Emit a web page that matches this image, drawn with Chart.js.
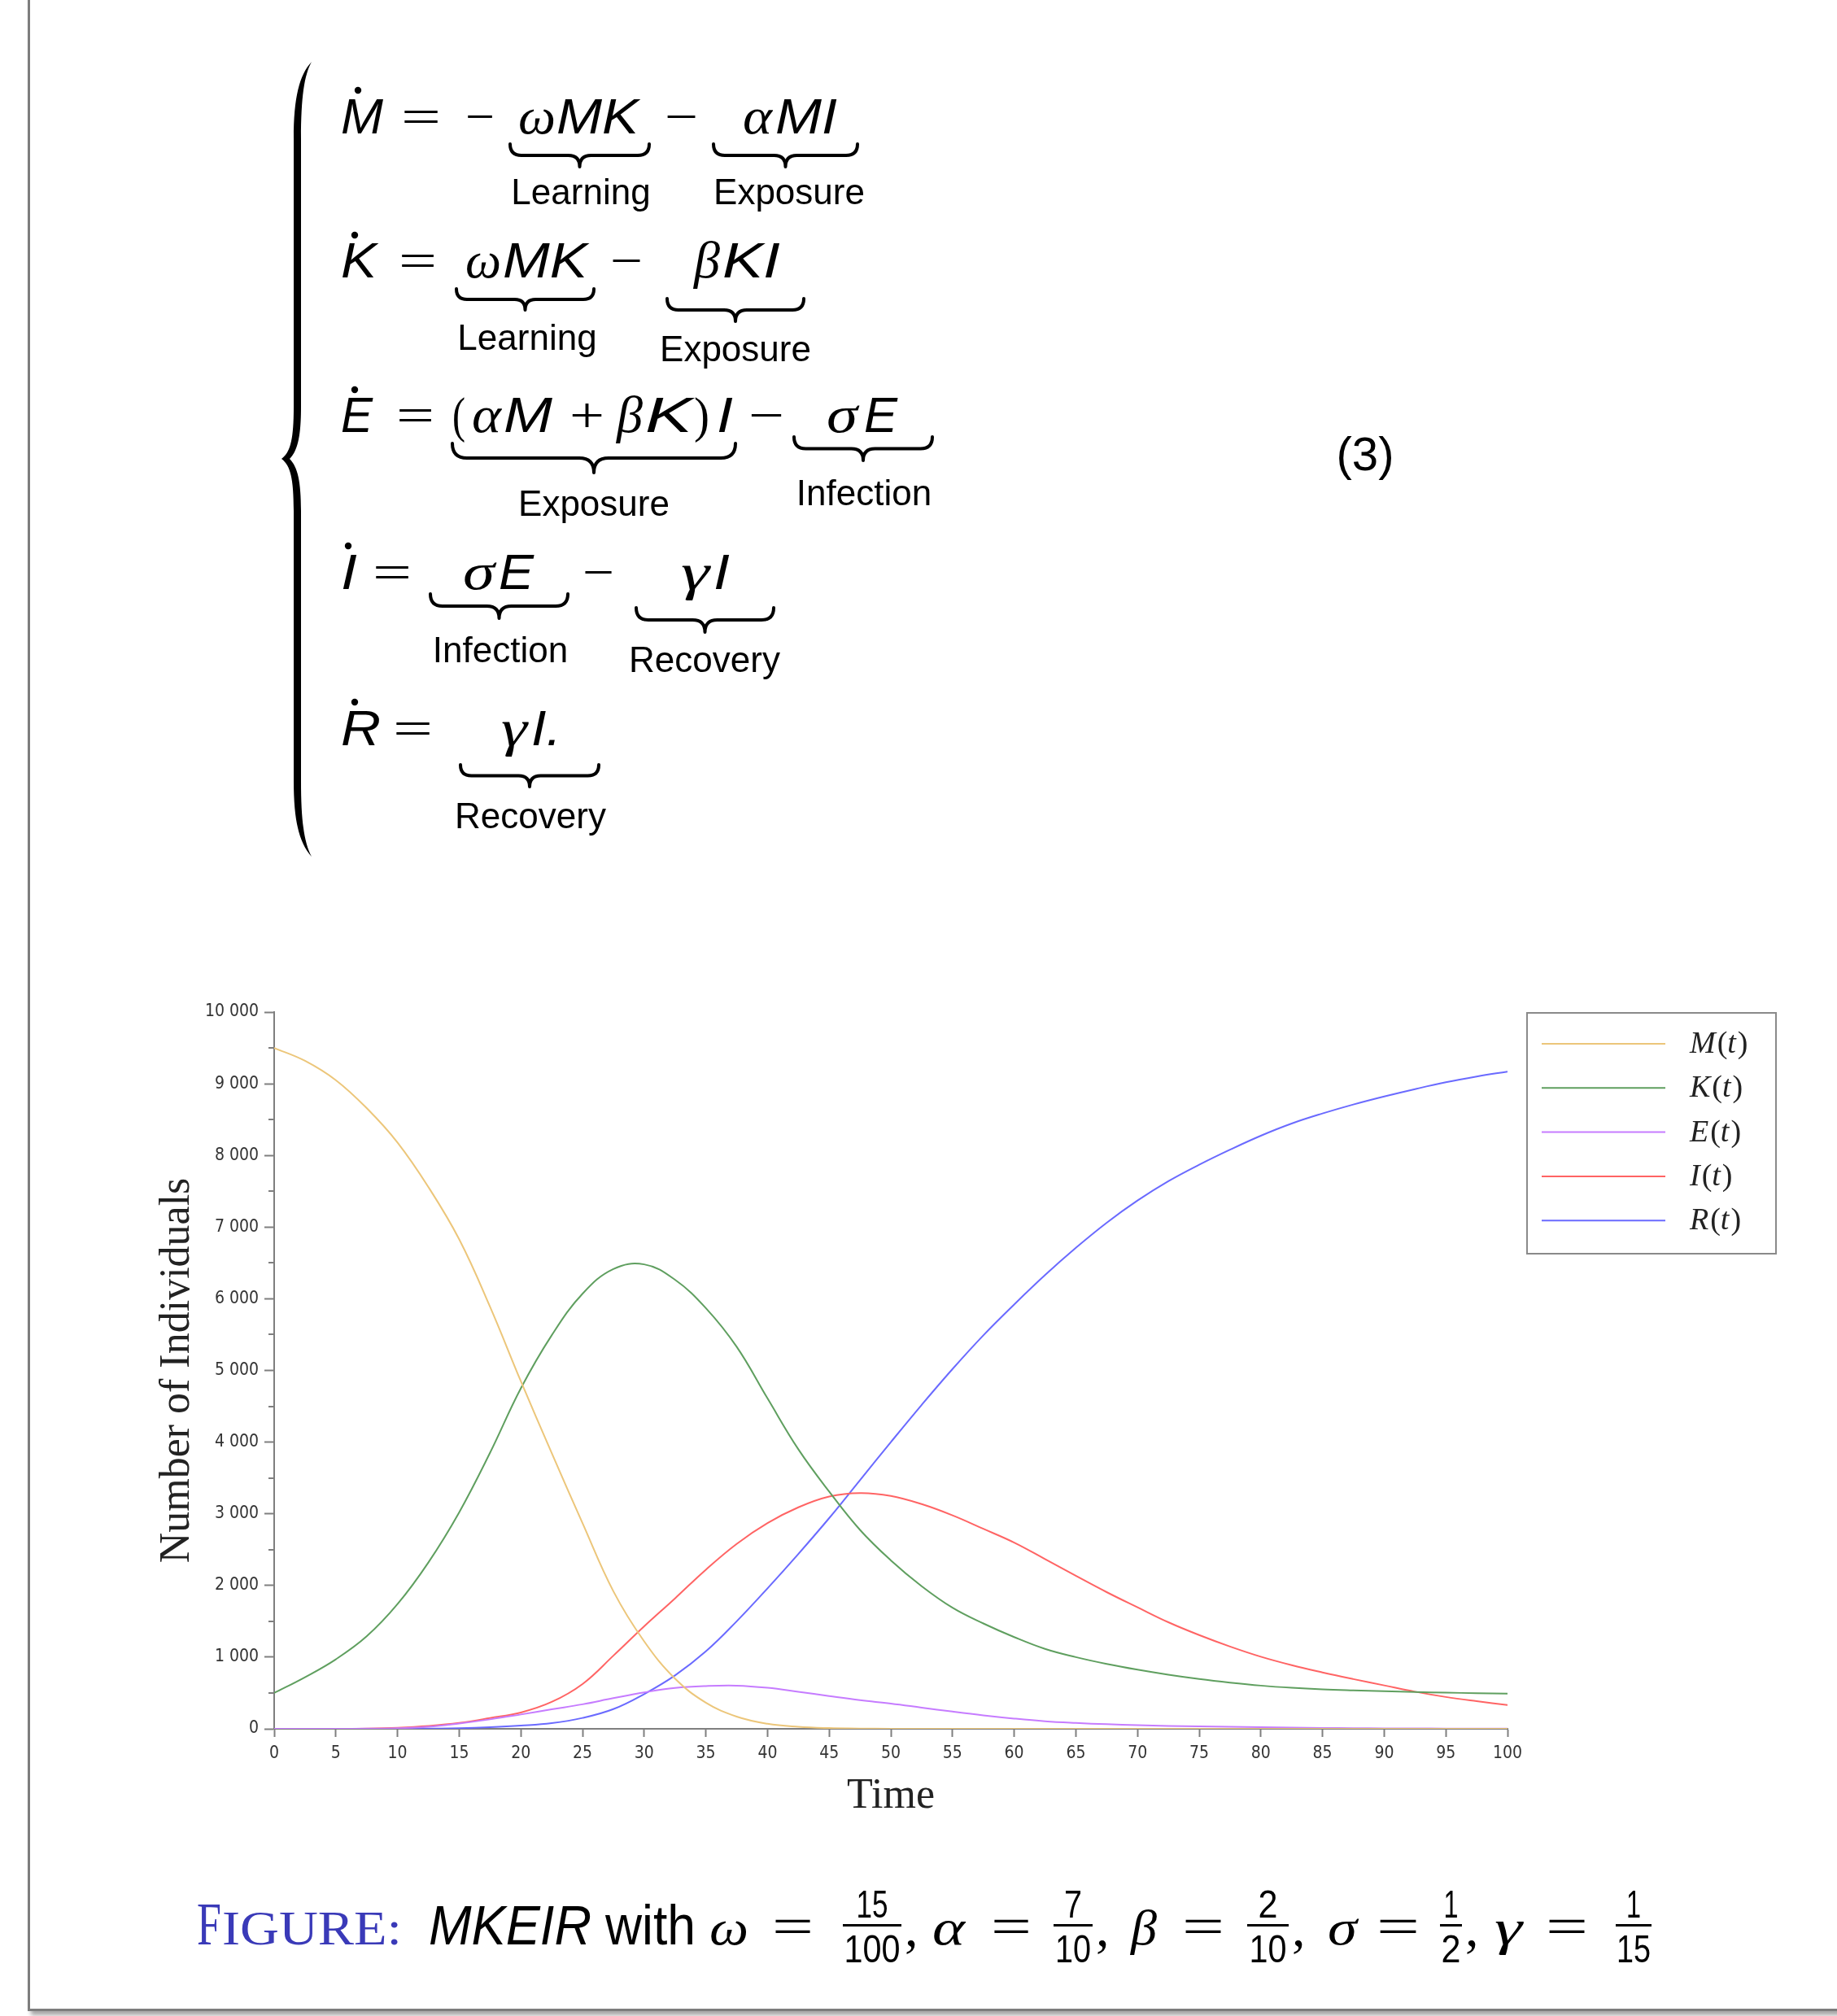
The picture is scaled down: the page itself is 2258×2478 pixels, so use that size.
<!DOCTYPE html>
<html>
<head>
<meta charset="utf-8">
<script src="https://cdn.jsdelivr.net/npm/chart.js@4/dist/chart.umd.min.js"></script>
<style>
  html, body { margin: 0; padding: 0; background: #fff; }
  body { width: 2258px; height: 2478px; position: relative; overflow: hidden; }
  #page {
    position: absolute; left: 34px; top: -10px; width: 2300px; height: 2482px;
    box-sizing: border-box; border: 3px solid #7d7d7d; background: #fff;
    box-shadow: 4px 5px 5px rgba(0, 0, 0, 0.35);
  }
  #chartBox { position: absolute; left: 0; top: 1150px; width: 2258px; height: 1150px; }
  #eq { position: absolute; left: 0; top: 0; pointer-events: none; }
  .mi { font-family: 'Liberation Sans'; font-style: italic; font-size: 62px; fill: #000; }
  .gr { font-family: 'Liberation Serif'; font-style: italic; font-size: 64px; fill: #000; }
  .op { font-family: 'Liberation Serif'; font-size: 62px; fill: #000; }
  .lb { font-family: 'Liberation Sans'; font-size: 44px; fill: #000; }
  .num { font-family: 'Liberation Sans'; font-size: 58px; fill: #000; }
  .cmi { font-family: 'Liberation Sans'; font-style: italic; font-size: 68px; fill: #000; }
  .ctx { font-family: 'Liberation Sans'; font-size: 68px; fill: #000; }
  .cgr { font-family: 'Liberation Serif'; font-style: italic; font-size: 62px; fill: #000; }
  .cop { font-family: 'Liberation Serif'; font-size: 66px; fill: #000; }
  .cfr { font-family: 'Liberation Sans'; font-size: 48px; fill: #000; }
  .fig1 { font-family: 'Liberation Serif'; font-size: 74px; fill: #3a3ab8; }
  .fig2 { font-family: 'Liberation Serif'; font-size: 60px; fill: #3a3ab8; }
</style>
</head>
<body>
<div id="page"></div>
<div id="chartBox"><canvas id="myChart" width="2258" height="1150"></canvas></div>
<svg id="eq" width="2258" height="2478" xmlns="http://www.w3.org/2000/svg"></svg>

<script>
// time points (every 2.5 units)
const times = [0, 2.5, 5, 7.5, 10, 12.5, 15, 17.5, 20, 22.5, 25, 27.5, 30, 32.5, 35, 37.5, 40,
    42.5, 45, 47.5, 50, 52.5, 55, 57.5, 60, 62.5, 65, 67.5, 70, 72.5, 75, 77.5, 80, 82.5, 85,
    87.5, 90, 92.5, 95, 97.5, 100];

// values
const mValues = [9500, 9320, 9050, 8660, 8180, 7560, 6830, 5890, 4850, 3850, 2870, 1920, 1220,
    700, 365, 170, 70, 28, 10, 4, 1, 0, 0, 0, 0, 0, 0, 0, 0, 0, 0, 0, 0, 0, 0, 0, 0, 0, 0, 0, 0];
const kValues = [500, 720, 970, 1290, 1740, 2320, 3020, 3850, 4750, 5490, 6070, 6415, 6480,
    6265, 5870, 5330, 4610, 3900, 3310, 2775, 2350, 1990, 1690, 1470, 1280, 1115, 1000, 905,
    825, 755, 695, 645, 603, 572, 550, 536, 525, 514, 505, 497, 490];
const eValues = [0, 0, 0, 2, 8, 28, 75, 132, 200, 272, 342, 428, 508, 570, 597, 603, 573, 517,
    457, 400, 352, 296, 240, 188, 143, 106, 82, 64, 51, 40, 33, 27, 22, 17, 12, 9, 7, 5, 4, 3, 2];
const iValues = [0, 0, 0, 3, 15, 40, 82, 150, 228, 375, 625, 1020, 1430, 1820, 2220, 2580, 2870,
    3090, 3240, 3290, 3250, 3135, 2978, 2790, 2598, 2368, 2135, 1907, 1695, 1487, 1308, 1148,
    1006, 888, 787, 694, 606, 518, 444, 385, 332];
const rValues = [0, 0, 0, 0, 1, 3, 8, 22, 45, 80, 152, 275, 485, 745, 1080, 1500, 1960, 2440,
    2940, 3470, 4000, 4520, 5020, 5490, 5920, 6330, 6710, 7060, 7370, 7640, 7870, 8080, 8275,
    8445, 8585, 8710, 8822, 8925, 9020, 9100, 9170];

const seriesNames = ['M', 'K', 'E', 'I', 'R'];
const seriesValues = [mValues, kValues, eValues, iValues, rValues];
const seriesColors = ['#ecc67a', '#5f9f5f', '#c67cff', '#ff6464', '#6a6aff'];

const xTicks = [0, 5, 10, 15, 20, 25, 30, 35, 40, 45, 50, 55, 60, 65, 70, 75, 80, 85, 90, 95, 100];
const yTicks = [0, 1000, 2000, 3000, 4000, 5000, 6000, 7000, 8000, 9000, 10000];
const yTickLabels = ['0', '1 000', '2 000', '3 000', '4 000', '5 000', '6 000', '7 000', '8 000', '9 000', '10 000'];
const yMinorTicks = [500, 1500, 2500, 3500, 4500, 5500, 6500, 7500, 8500, 9500];

const axisColor = '#7f7f7f';
const tickFont = "'DejaVu Sans Condensed', 'DejaVu Sans'";

// half-way ticks on the y axis (shorter)
const minorTicks = {
    id: 'minorTicks',
    afterDraw(chart) {
        const ctx = chart.ctx;
        const y = chart.scales.y;
        ctx.save();
        ctx.strokeStyle = axisColor;
        ctx.lineWidth = 2;
        for (let v of yMinorTicks) {
            const py = Math.round(y.getPixelForValue(v));
            ctx.beginPath();
            ctx.moveTo(y.right - 7, py);
            ctx.lineTo(y.right, py);
            ctx.stroke();
        }
        ctx.restore();
    }
};

// framed legend to the right of the plot, M(t) style labels
const legendBox = {
    id: 'legendBox',
    afterDraw(chart) {
        const { ctx, chartArea } = chart;
        const x0 = chartArea.right + 24;
        const y0 = chartArea.top + 1;
        ctx.save();
        ctx.strokeStyle = '#8a8a8a';
        ctx.lineWidth = 2;
        ctx.strokeRect(x0, y0, 306, 296);
        chart.data.datasets.forEach((ds, i) => {
            const y = y0 + 38 + i * 54.3;
            ctx.strokeStyle = ds.borderColor;
            ctx.lineWidth = 2;
            ctx.beginPath();
            ctx.moveTo(x0 + 18, y);
            ctx.lineTo(x0 + 170, y);
            ctx.stroke();

            const parts = [[seriesNames[i], true], ['(', false], ['t', true], [')', false]];
            let x = x0 + 200;
            ctx.fillStyle = '#222';
            ctx.textBaseline = 'alphabetic';
            for (let [s, it] of parts) {
                ctx.font = (it ? 'italic ' : '') + "38px 'Liberation Serif'";
                ctx.fillText(s, x, y + 11);
                x += ctx.measureText(s).width + (it ? 2 : 0);
            }
        });
        ctx.restore();
    }
};

window.addEventListener('DOMContentLoaded', () => {
    const ctx = document.getElementById('myChart');

    new Chart(ctx, {
        type: 'line',
        data: {
            datasets: seriesNames.map((name, i) => ({
                label: name + '(t)',
                data: times.map((t, j) => ({ x: t, y: seriesValues[i][j] })),
                borderColor: seriesColors[i],
                borderWidth: 2,
                pointRadius: 0,
                fill: false,
                tension: 0.4
            }))
        },
        options: {
            responsive: false,
            animation: false,
            devicePixelRatio: 1,
            layout: { padding: { left: 150, right: 405, top: 94, bottom: 55 } },
            plugins: { legend: { display: false }, tooltip: { enabled: false } },
            scales: {
                x: {
                    type: 'linear',
                    min: 0,
                    max: 100,
                    afterBuildTicks: s => { s.ticks = xTicks.map(v => ({ value: v })); },
                    afterFit: s => { s.height = 120; },
                    ticks: {
                        color: '#333',
                        font: { family: tickFont, size: 21 },
                        padding: 8,
                        maxRotation: 0,
                        autoSkip: false
                    },
                    grid: { drawOnChartArea: false, tickLength: 10, tickColor: axisColor, tickWidth: 2 },
                    border: { color: axisColor, width: 2 },
                    title: {
                        display: true,
                        text: 'Time',
                        color: '#222',
                        font: { family: 'Liberation Serif', size: 52 },
                        padding: { top: 0, bottom: 5 }
                    }
                },
                y: {
                    type: 'linear',
                    min: 0,
                    max: 10000,
                    afterBuildTicks: s => { s.ticks = yTicks.map(v => ({ value: v })); },
                    afterFit: s => { s.width = 187; },
                    ticks: {
                        color: '#333',
                        font: { family: tickFont, size: 21 },
                        padding: 7,
                        callback: (v) => yTickLabels[yTicks.indexOf(v)]
                    },
                    grid: { drawOnChartArea: false, tickLength: 12, tickColor: axisColor, tickWidth: 2 },
                    border: { color: axisColor, width: 2 },
                    title: {
                        display: true,
                        text: 'Number of Individuals',
                        color: '#222',
                        font: { family: 'Liberation Serif', size: 52 },
                        padding: { top: 37, bottom: 0 }
                    }
                }
            }
        },
        plugins: [minorTicks, legendBox]
    });

    drawEquations();
});

// ---- equations and caption (svg text) ----
const NS = 'http://www.w3.org/2000/svg';

function txt(svg, s, x, y, cls, w, anchor) {
    const t = document.createElementNS(NS, 'text');
    t.setAttribute('x', x);
    t.setAttribute('y', y);
    t.setAttribute('class', cls);
    if (w) {
        t.setAttribute('textLength', w);
        t.setAttribute('lengthAdjust', 'spacingAndGlyphs');
    }
    if (anchor) t.setAttribute('text-anchor', anchor);
    t.textContent = s;
    svg.appendChild(t);
}

function shape(svg, tag, attrs) {
    const el = document.createElementNS(NS, tag);
    for (let k in attrs) el.setAttribute(k, attrs[k]);
    svg.appendChild(el);
}

function underbrace(svg, x1, x2, y0, y1) {
    const h = y1 - y0, ym = y0 + h * 0.5, r = h * 0.5, xm = (x1 + x2) / 2;
    const d = `M${x1},${y0} Q${x1},${ym} ${x1 + r},${ym} L${xm - r},${ym} Q${xm},${ym} ${xm},${y1}` +
        ` M${xm},${y1} Q${xm},${ym} ${xm + r},${ym} L${x2 - r},${ym} Q${x2},${ym} ${x2},${y0}`;
    shape(svg, 'path', { d: d, fill: 'none', stroke: '#000', 'stroke-width': 4, 'stroke-linecap': 'round' });
}

function drawEquations() {
    const svg = document.getElementById('eq');

    // big left brace
    shape(svg, 'path', {
        d: 'M383,76 C368,92 361,120 361,170 L361,500 C361,540 357,556 346,564 C357,572 361,588 361,628 ' +
           'L361,960 C361,1010 368,1036 383,1053 C374,1036 370,1010 370,960 L370,628 C370,592 366,574 356,564 ' +
           'C366,554 370,536 370,500 L370,170 C370,120 374,92 383,76 Z',
        fill: '#000'
    });

    // [class, text, x, width] per line, with baseline
    const lines = [
        { b: 164, dot: [440, 111], parts: [['mi', 'M', 419, 52], ['op', '=', 493, 49], ['op', '\u2212', 572, 36],
            ['gr', '\u03c9', 637, 46], ['mi', 'MK', 684, 101], ['op', '\u2212', 817, 41],
            ['gr', '\u03b1', 913, 36], ['mi', 'MI', 953, 76]] },
        { b: 341, dot: [436, 289], parts: [['mi', 'K', 419, 44], ['op', '=', 490, 47],
            ['gr', '\u03c9', 572, 44], ['mi', 'MK', 618, 104], ['op', '\u2212', 750, 40],
            ['gr', '\u03b2', 853, 32], ['mi', 'KI', 888, 71]] },
        { b: 531, dot: [436, 479], parts: [['mi', 'E', 419, 39], ['op', '=', 487, 47], ['op', '(', 556, 16],
            ['gr', '\u03b1', 580, 36], ['mi', 'M', 619, 60], ['op', '+', 700, 43], ['gr', '\u03b2', 758, 32],
            ['mi', 'K', 793, 58], ['op', ')', 853, 19], ['mi', 'I', 881, 20], ['op', '\u2212', 920, 44],
            ['gr', '\u03c3', 1016, 38], ['mi', 'E', 1062, 41]] },
        { b: 724, dot: [428, 671], parts: [['mi', 'I', 419, 20], ['op', '=', 458, 48],
            ['gr', '\u03c3', 569, 39], ['mi', 'E', 613, 43], ['op', '\u2212', 716, 39],
            ['gr', '\u03b3', 837, 35], ['mi', 'I', 877, 20]] },
        { b: 916, dot: [436, 863], parts: [['mi', 'R', 419, 49], ['op', '=', 483, 49],
            ['gr', '\u03b3', 616, 32], ['mi', 'I.', 653, 37]] }
    ];
    for (let ln of lines) {
        for (let [cls, s, x, w] of ln.parts) txt(svg, s, x, ln.b, cls, w);
        shape(svg, 'circle', { cx: ln.dot[0], cy: ln.dot[1], r: 4.2, fill: '#000' });
    }

    // underbraces: x1, x2, top, tip, label, label centre, label baseline
    const braces = [
        [627, 798, 177, 205, 'Learning', 714, 251],
        [877, 1054, 177, 205, 'Exposure', 970, 251],
        [561, 730, 355, 381, 'Learning', 648, 430],
        [820, 988, 367, 395, 'Exposure', 904, 444],
        [556, 904, 545, 581, 'Exposure', 730, 634],
        [976, 1146, 537, 566, 'Infection', 1062, 621],
        [529, 698, 730, 760, 'Infection', 615, 814],
        [782, 951, 747, 777, 'Recovery', 866, 826],
        [566, 736, 940, 967, 'Recovery', 652, 1018]
    ];
    for (let [x1, x2, y0, y1, label, cx, by] of braces) {
        underbrace(svg, x1, x2, y0, y1);
        txt(svg, label, cx, by, 'lb', null, 'middle');
    }

    // equation number
    txt(svg, '(3)', 1678, 578, 'num', 71, 'middle');

    // caption
    const cb = 2390;
    txt(svg, 'F', 242, cb, 'fig1', 30);
    txt(svg, 'IGURE:', 273, cb, 'fig2', 221);
    txt(svg, 'MKEIR', 527, cb, 'cmi', 200);
    txt(svg, 'with', 744, cb, 'ctx', 111);
    const capParts = [
        ['cgr', '\u03c9', 872, 48], ['cop', '=', 949, 51], ['cgr', '\u03b1', 1146, 40], ['cop', '=', 1218, 50],
        ['cgr', '\u03b2', 1390, 32], ['cop', '=', 1453, 52], ['cgr', '\u03c3', 1632, 36], ['cop', '=', 1692, 53],
        ['cgr', '\u03b3', 1837, 34], ['cop', '=', 1900, 52]
    ];
    for (let [cls, s, x, w] of capParts) txt(svg, s, x, cb, cls, w);
    // fractions: numerator, denominator, bar x1, bar x2, numerator width, denominator width
    const fracs = [
        ['15', '100', 1036, 1108, 39, 69],
        ['7', '10', 1295, 1343, 22, 44],
        ['2', '10', 1533, 1584, 24, 46],
        ['1', '2', 1770, 1797, 18, 24],
        ['1', '15', 1986, 2030, 18, 42]
    ];
    fracs.forEach(([n, d, x1, x2, wn, wd], k) => {
        const cx = (x1 + x2) / 2;
        txt(svg, n, cx, 2357, 'cfr', wn, 'middle');
        txt(svg, d, cx, 2412, 'cfr', wd, 'middle');
        shape(svg, 'rect', { x: x1, y: 2365, width: x2 - x1, height: 3, fill: '#000' });
        if (k < fracs.length - 1) txt(svg, ',', x2 + 4, cb + 2, 'cop');
    });
}
</script>
</body>
</html>
